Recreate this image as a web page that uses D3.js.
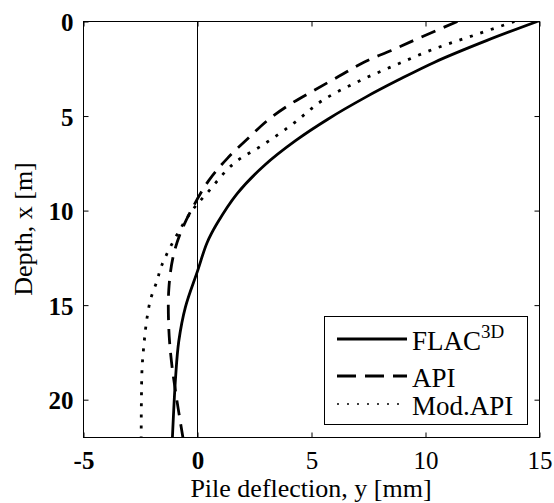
<!DOCTYPE html>
<html>
<head>
<meta charset="utf-8">
<script src="https://cdn.jsdelivr.net/npm/d3@7"></script>
<style>
  html, body { margin: 0; padding: 0; background: #fff; }
  svg { display: block; font-family: "Liberation Serif", "Times New Roman", serif; }
</style>
</head>
<body>
<div id="chart"></div>
<script>
// Depth (m) and pile deflection (mm).
const flacDepth = [0, 1.0, 2.15, 3.1, 4.0, 5.14, 6.3, 7.6, 9.1, 10.7, 11.7, 13.2, 15.1, 16.9, 18.8, 22];
const flacDefl  = [14.9, 12.7, 10.4, 8.8, 7.38, 5.75, 4.3, 2.94, 1.74, 0.85, 0.42, 0, -0.53, -0.82, -0.96, -1.1];

const apiDepth = [0, 0.83, 1.53, 2.15, 2.9, 3.65, 4.35, 5.2, 6.2, 7.25, 8.4, 9.7, 11.2, 12.5, 14.2, 16.2, 17.9, 19.6, 22];
const apiDefl  = [11.4, 9.8, 8.5, 7.3, 6.2, 5.1, 4.1, 3.1, 2.2, 1.3, 0.5, -0.15, -0.75, -1.08, -1.26, -1.26, -1.15, -0.96, -0.64];

const modDepth = [0, 0.74, 1.44, 2.32, 3.2, 4.2, 5.4, 6.5, 7.5, 9.1, 10.1, 11.9, 13.0, 13.7, 14.7, 15.9, 17.1, 18.3, 20, 22];
const modDefl  = [13.9, 12.1, 10.4, 8.65, 7.0, 5.45, 4.2, 2.9, 1.6, 0.4, -0.3, -1.18, -1.6, -1.77, -2.06, -2.24, -2.35, -2.43, -2.46, -2.47];

const xTicks = [-5, 0, 5, 10, 15];
const yTicks = [0, 5, 10, 15, 20];

const seriesNames = ['FLAC', 'API', 'Mod.API'];

const W = 554, H = 503;
const margin = {top: 21.5, left: 83.5};
const width = 456;
const height = 416;

const svg = d3.select('#chart').append('svg')
    .attr('width', W)
    .attr('height', H);
const g = svg.append('g')
    .attr('transform', `translate(${margin.left},${margin.top})`);

const x = d3.scaleLinear().domain([-5, 15]).range([0, width]);
const y = d3.scaleLinear().domain([0, 22]).range([0, height]);

// Zero line.
g.append('line')
    .attr('x1', x(0)).attr('x2', x(0))
    .attr('y1', 0).attr('y2', height)
    .attr('stroke', '#000')
    .attr('stroke-width', 1);

// Curves.
const zip = (ds, vs) => ds.map((d, i) => ({depth: d, defl: vs[i]}));
const series = [
    {name: 'FLAC', data: zip(flacDepth, flacDefl), dash: null},
    {name: 'API', data: zip(apiDepth, apiDefl), dash: '15,9'},
    {name: 'Mod.API', data: zip(modDepth, modDefl), dash: '3,8'}
];
const line = d3.line()
    .x(d => x(d.defl))
    .y(d => y(d.depth))
    .curve(d3.curveCatmullRom.alpha(0.5));

g.append('defs').append('clipPath').attr('id', 'clip')
    .append('rect').attr('width', width).attr('height', height);

g.append('g').attr('clip-path', 'url(#clip)')
    .selectAll('path')
    .data(series)
    .enter()
    .append('path')
        .attr('d', d => line(d.data))
        .attr('fill', 'none')
        .attr('stroke', '#000')
        .attr('stroke-width', 2.8)
        .attr('stroke-dasharray', d => d.dash);

// Axes (Matlab style: ticks inside, box all round).
const fontSize = '25px';
const xAxis = g.append('g')
    .attr('transform', `translate(0,${height})`)
    .call(d3.axisBottom(x).tickValues(xTicks).tickSizeInner(-5).tickSizeOuter(0).tickPadding(14).tickFormat(d => String(d)));
const yAxis = g.append('g')
    .call(d3.axisLeft(y).tickValues(yTicks).tickSizeInner(-5).tickSizeOuter(0).tickPadding(10).tickFormat(d => String(d)));
g.append('g')
    .call(d3.axisTop(x).tickValues(xTicks).tickSizeInner(-5).tickSizeOuter(0).tickFormat(''));
g.append('g')
    .attr('transform', `translate(${width},0)`)
    .call(d3.axisRight(y).tickValues(yTicks).tickSizeInner(-5).tickSizeOuter(0).tickFormat(''));

g.selectAll('.domain').remove();
g.selectAll('.tick line').attr('stroke', '#000');
[xAxis, yAxis].forEach(a => a.selectAll('text')
    .style('font-family', '"Liberation Serif", "Times New Roman", serif')
    .style('font-size', fontSize)
    .attr('fill', '#000'));
yAxis.selectAll('text').style('font-weight', 'bold').attr('dy', '0.36em');
xAxis.selectAll('text').style('font-weight', d => d <= 0 ? 'bold' : 'normal');

g.append('rect')
    .attr('width', width).attr('height', height)
    .attr('fill', 'none')
    .attr('stroke', '#000')
    .attr('stroke-width', 1);

// Axis titles.
svg.append('text')
    .attr('x', 83 + width / 2)
    .attr('y', 497)
    .attr('text-anchor', 'middle')
    .style('font-size', '26px')
    .text('Pile deflection, y [mm]');
svg.append('text')
    .attr('transform', `translate(32,${21 + height / 2}) rotate(-90)`)
    .attr('text-anchor', 'middle')
    .style('font-size', '26px')
    .text('Depth, x [m]');

// Legend.
const legend = svg.append('g');
legend.append('rect')
    .attr('x', 324.5).attr('y', 316.5)
    .attr('width', 203).attr('height', 108)
    .attr('fill', '#fff')
    .attr('stroke', '#000')
    .attr('stroke-width', 1);
const rowY = [339, 376, 404];
const legendDash = [null, '19,9', '2,8'];
series.forEach((s, i) => {
    legend.append('line')
        .attr('x1', 337).attr('x2', 407)
        .attr('y1', rowY[i]).attr('y2', rowY[i])
        .attr('stroke', '#000')
        .attr('stroke-width', i === 2 ? 1.6 : 2.8)
        .attr('stroke-dasharray', legendDash[i]);
    const t = legend.append('text')
        .attr('x', 412)
        .attr('y', rowY[i] + 11)
        .style('font-size', '27px')
        .text(seriesNames[i]);
    if (i === 0) {
        t.append('tspan')
            .attr('dy', -12)
            .style('font-size', '19px')
            .text('3D');
    }
});
</script>
</body>
</html>
